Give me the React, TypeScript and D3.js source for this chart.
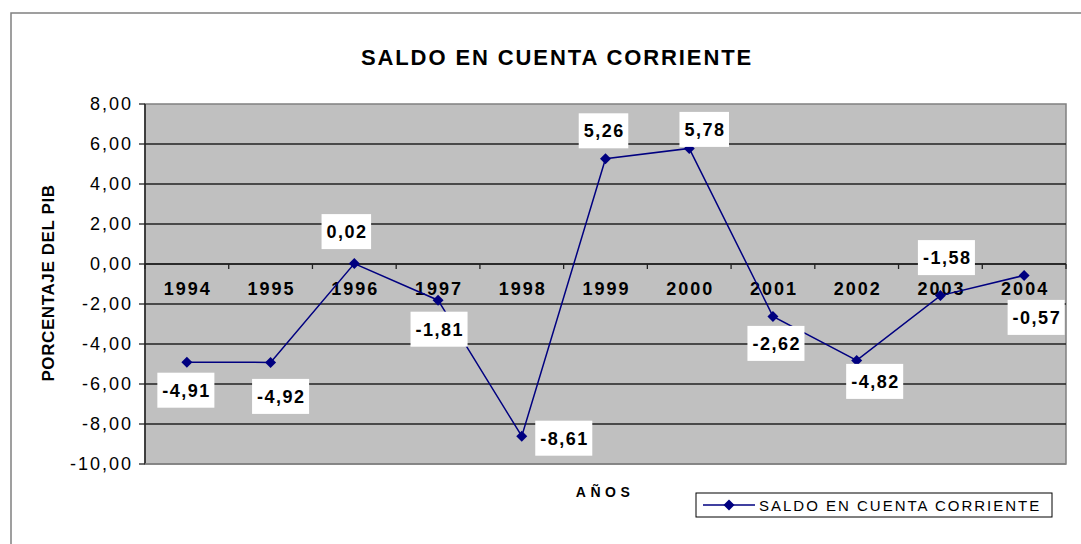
import React from "react";
import * as d3 from "d3";

const years = ["1994", "1995", "1996", "1997", "1998", "1999", "2000", "2001", "2002", "2003", "2004"];
const saldo = [-4.91, -4.92, 0.02, -1.81, -8.61, 5.26, 5.78, -2.62, -4.82, -1.58, -0.57];
const yTicks = [8, 6, 4, 2, 0, -2, -4, -6, -8, -10];
const seriesName = "SALDO EN CUENTA CORRIENTE";
const chartTitle = "SALDO EN CUENTA CORRIENTE";
const yTitle = "PORCENTAJE DEL PIB";
const xTitle = "AÑOS";

// label placement offsets (layout only), relative to each point
const labelOffsets: [number, number][] = [
  [-1, 28], [10, 34], [-8, -32], [1, 29], [42, 2], [-2, -28],
  [15, -19], [3, 27], [18, 21], [6, -38], [12, 42],
];

const fmt = (v: number) => v.toFixed(2).replace(".", ",");

export default function App() {
  const W = 1081, H = 544;
  const left = 145, right = 1066, top = 104, bottom = 464;
  const x = d3.scaleBand<string>().domain(years).range([left, right]).padding(0);
  const y = d3.scaleLinear().domain([-10, 8]).range([bottom, top]);
  const cx = (i: number) => (x(years[i]) as number) + x.bandwidth() / 2;
  const line = d3.line<number>().x((_, i) => cx(i)).y((d) => y(d));
  const navy = "#000080";
  const font = "'Liberation Sans', Arial, sans-serif";
  const diamond = (px: number, py: number, r = 5.5) =>
    `M${px},${py - r}L${px + r},${py}L${px},${py + r}L${px - r},${py}Z`;
  const cw: Record<string, number> = { "-": 0.333, ",": 0.278 };
  const textW = (s: string, fs: number, ls: number) =>
    s.split("").reduce((a, c) => a + (cw[c] ?? 0.556), 0) * fs + ls * (s.length - 1);
  const labelW = (s: string) => textW(s, 18, 1.5) + 10;

  return (
    <svg width={W} height={H} style={{ position: "absolute", left: 0, top: 0, background: "#fff" }} fontFamily={font}>
      <rect x={11} y={13} width={1100} height={560} fill="#fff" stroke="#808080" strokeWidth={1.5} />
      <text x={557} y={65} textAnchor="middle" fontWeight="bold" fontSize={22} letterSpacing={1.9}>{chartTitle}</text>
      {/* plot area */}
      <rect x={left} y={top} width={right - left} height={bottom - top} fill="#C0C0C0" stroke="#808080" strokeWidth={1.5} />
      {yTicks.map((t) => (
        <g key={t}>
          {t !== 8 && t !== -10 && (
            <line x1={left} x2={right} y1={y(t)} y2={y(t)} stroke="#222" strokeWidth={1.3} />
          )}
          <line x1={left - 6} x2={left} y1={y(t)} y2={y(t)} stroke="#222" strokeWidth={1.3} />
          <text x={133} y={y(t) + 6} textAnchor="end" fontSize={18} letterSpacing={2}>{fmt(t)}</text>
        </g>
      ))}
      <line x1={left} x2={left} y1={top} y2={bottom} stroke="#222" strokeWidth={1.5} />
      <line x1={left} x2={right} y1={bottom} y2={bottom} stroke="#808080" strokeWidth={1.5} />
      {/* category axis at zero */}
      <line x1={left} x2={right} y1={y(0)} y2={y(0)} stroke="#222" strokeWidth={1.5} />
      {years.map((yr) => (
        <line key={"t" + yr} x1={x(yr) as number} x2={x(yr) as number} y1={y(0)} y2={y(0) + 5} stroke="#222" strokeWidth={1.3} />
      ))}
      <line x1={right} x2={right} y1={y(0)} y2={y(0) + 5} stroke="#222" strokeWidth={1.3} />
      {years.map((yr, i) => (
        <text key={"l" + yr} x={cx(i) + 1} y={294.5} textAnchor="middle" fontWeight="bold" fontSize={18} letterSpacing={2}>{yr}</text>
      ))}
      {/* series */}
      <path d={line(saldo) || ""} fill="none" stroke={navy} strokeWidth={1.5} />
      {saldo.map((v, i) => (
        <path key={"m" + i} d={diamond(cx(i), y(v))} fill={navy} />
      ))}
      {/* data labels */}
      {saldo.map((v, i) => {
        const s = fmt(v);
        const w = labelW(s);
        const lx = cx(i) + labelOffsets[i][0];
        const ly = y(v) + labelOffsets[i][1];
        return (
          <g key={"d" + i}>
            <rect x={lx - w / 2} y={ly - 17.5} width={w} height={35} fill="#fff" />
            <text x={lx + 0.75} y={ly + 6.5} textAnchor="middle" fontWeight="bold" fontSize={18} letterSpacing={1.5}>{s}</text>
          </g>
        );
      })}
      {/* axis titles */}
      <text transform={`translate(53.5,283) rotate(-90)`} textAnchor="middle" fontWeight="bold" fontSize={17} letterSpacing={0.6}>{yTitle}</text>
      <text x={605} y={497} textAnchor="middle" fontWeight="bold" fontSize={14} letterSpacing={4.5}>{xTitle}</text>
      {/* legend */}
      <rect x={696} y={493} width={356} height={24} fill="#fff" stroke="#000" strokeWidth={1} />
      <line x1={703} x2={755} y1={505} y2={505} stroke={navy} strokeWidth={1.5} />
      <path d={diamond(729, 505)} fill={navy} />
      <text x={759} y={511} fontSize={15} letterSpacing={2}>{seriesName}</text>
    </svg>
  );
}
